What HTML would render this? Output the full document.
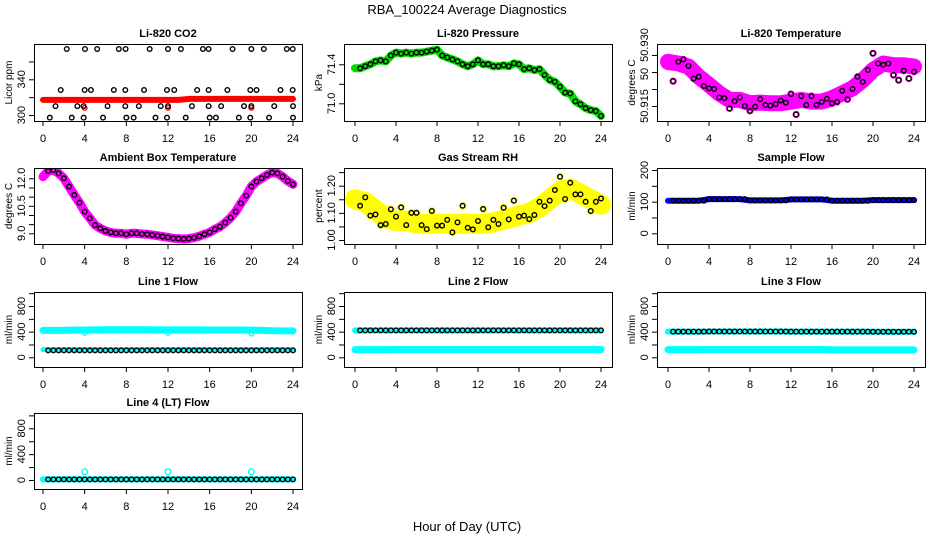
<!DOCTYPE html>
<html><head><meta charset="utf-8"><style>
html,body{margin:0;padding:0;background:#fff;width:936px;height:540px;overflow:hidden}
svg{display:block;font-family:"Liberation Sans",sans-serif}
</style></head><body>
<svg id="c" width="936" height="540" xmlns="http://www.w3.org/2000/svg">
<text x="467" y="14" text-anchor="middle" font-size="13">RBA_100224  Average Diagnostics</text>
<text x="467" y="531" text-anchor="middle" font-size="13">Hour of Day (UTC)</text>
</svg>
<script>
// ---- data ----
const hoursHalf = [];
for (let i = 0; i <= 48; i++) hoursHalf.push(i / 2);
const hoursHourly = [0,1,2,3,4,5,6,7,8,9,10,11,12,13,14,15,16,17,18,19,20,21,22,23,24];
const xTicks = [0,4,8,12,16,20,24];

const co2Red = [317,317,317,317,317,317,317,317,317,317,317,317,317,317,318,318,318,318,318,318,318,318,318,318,318];
const co2RedOutHours = [4,12,20];
const co2RedOutVals = [308,308,308];
const co2BlackHours = [2.28,4.03,5.2,7.28,7.93,10.24,12.0,13.24,15.35,15.9,18.2,20.0,21.2,23.4,23.97,
 1.7,4,4.6,6.8,7.9,9.7,11.9,12.6,14.8,15.9,17.7,19.9,20.5,22.8,23.97,
 1.2,3.3,3.9,6.2,7.9,9.2,11.3,12.0,14.3,15.9,17.1,19.3,20.0,22.2,24.0,
 0.65,2.76,3.9,5.76,8.0,8.7,10.8,11.9,13.7,16.0,16.6,18.8,19.9,21.7,24.0];
const co2BlackVals = [374,374,374,374,374,374,374,374,374,374,374,374,374,374,374,
 328,328,328,328,328,328,328,328,328,328,328,328,328,328,328,
 310,310,310,310,310,310,310,310,310,310,310,310,310,310,310,
 297,297,297,297,297,297,297,297,297,297,297,297,297,297,297];

const pressureVals = [71.36,71.36,71.38,71.40,71.43,71.44,71.43,71.49,71.52,71.51,71.52,71.51,71.52,71.52,71.53,71.54,71.55,71.49,71.47,71.45,71.43,71.40,71.38,71.40,71.44,71.40,71.40,71.38,71.38,71.39,71.38,71.41,71.40,71.35,71.36,71.34,71.35,71.29,71.24,71.22,71.17,71.11,71.10,71.02,70.99,70.95,70.93,70.92,70.87];

const tempTrend = [50.9280,50.9275,50.9266,50.9236,50.9212,50.9187,50.9168,50.9168,50.9158,50.9160,50.9158,50.9158,50.9163,50.9168,50.9163,50.9163,50.9173,50.9187,50.9202,50.9226,50.9256,50.9275,50.9270,50.9270,50.9266];
const tempBlack = [50.9266,50.9223,50.9280,50.9287,50.9268,50.9231,50.9236,50.9209,50.9202,50.9200,50.9175,50.9173,50.9143,50.9164,50.9175,50.9150,50.9136,50.9148,50.9170,50.9153,50.9151,50.9156,50.9166,50.9160,50.9185,50.9125,50.9179,50.9153,50.9179,50.9153,50.9162,50.9171,50.9158,50.9162,50.9195,50.9170,50.9200,50.9236,50.9221,50.9256,50.9305,50.9275,50.9271,50.9275,50.9241,50.9226,50.9254,50.9231,50.9251];

const ambientVals = [12.09,12.40,12.45,12.27,12.00,11.55,11.09,10.67,10.18,9.82,9.45,9.27,9.13,9.05,9.00,9.00,8.95,9.00,9.00,8.96,8.95,8.91,8.87,8.82,8.78,8.73,8.71,8.69,8.71,8.76,8.84,8.95,9.05,9.22,9.36,9.58,9.85,10.18,10.64,11.05,11.55,11.82,12.00,12.18,12.31,12.27,12.09,11.85,11.67];

const rhTrend = [1.15,1.14,1.11,1.08,1.07,1.07,1.06,1.06,1.06,1.06,1.06,1.06,1.06,1.06,1.07,1.08,1.09,1.10,1.12,1.15,1.18,1.19,1.17,1.15,1.13];
const rhBlack = [1.15,1.126,1.157,1.09,1.094,1.055,1.059,1.113,1.086,1.12,1.055,1.10,1.10,1.055,1.04,1.107,1.053,1.053,1.074,1.028,1.065,1.126,1.045,1.039,1.07,1.114,1.047,1.074,1.059,1.119,1.076,1.145,1.086,1.09,1.077,1.092,1.141,1.125,1.145,1.184,1.233,1.151,1.211,1.168,1.168,1.141,1.107,1.141,1.153];

const sampleVals = [103,103,103,103,108,108,108,108,104,104,104,104,107,107,107,107,103,103,103,103,105,105,105,105,105];

const line1Top = [420,420,420,425,425,428,430,430,430,430,430,428,428,428,428,428,426,426,425,425,424,420,415,412,412];
const line1Low = [120,120,120,120,120,120,120,120,120,120,120,120,120,120,120,120,120,120,120,120,120,120,120,120,120];
const line1Black = [108,108,108,108,108,108,108,108,108,108,108,108,108,108,108,108,108,108,108,108,108,108,108,108,108];
const line1OutVals = [380,380,370];
const line2Top = [420,420,420,420,420,420,420,420,420,420,420,420,420,420,420,420,420,420,420,420,420,420,420,420,420];
const line2Low = [120,120,120,120,122,122,122,122,122,122,122,122,122,122,122,122,122,122,122,122,122,122,122,122,122];
const line3Top = [400,400,400,400,402,402,402,402,402,402,402,402,400,400,400,400,400,400,400,400,398,398,398,398,398];
const line3Low = [120,120,120,120,122,122,122,122,122,122,122,122,122,122,122,122,115,115,115,115,115,115,115,115,115];
const line4Vals = [10,10,10,10,10,10,10,10,10,10,10,10,10,10,10,10,10,10,10,10,10,10,10,10,10];
const line4OutHours = [4,12,20];
const line4OutVals = [128,128,128];

// ---- layout ----
const colL = [34,344,657], colR = [302,612,925], colX0 = [43,355,668];
const rowT = [44,168,292,413], rowB = [121,244,367,489];
const NS = 'http://www.w3.org/2000/svg';
const svg = document.getElementById('c');
function mk(tag, attrs, parent) {
  const e = document.createElementNS(NS, tag);
  for (const k in attrs) e.setAttribute(k, attrs[k]);
  (parent || svg).appendChild(e);
  return e;
}
function panel(o) {
  const g = mk('g', {});
  
  
  const L = colL[o.c], R = colR[o.c], T = rowT[o.r], B = rowB[o.r];
  const xs = h => colX0[o.c] + h * ((colR[o.c] - colL[o.c]) - 2 * (colX0[o.c] - colL[o.c])) / 24;
  const ys = v => T + o.p1 + (v - o.v1) * (o.p2 - o.p1) / (o.v2 - o.v1);
  const clip = 'clip' + o.name;
  const cp = mk('clipPath', {id: clip}, g);
  mk('rect', {x: L, y: T, width: R - L, height: B - T}, cp);
  const plot = mk('g', {'clip-path': 'url(#' + clip + ')'}, g);
  
  
  o.draw(plot, xs, ys);
  const box = mk('rect', {x: L + 0.5, y: T + 0.5, width: R - L, height: B - T, fill: 'none', stroke: '#000', 'stroke-width': 1}, g);
  
  
  const t = mk('text', {x: (L + R) / 2, y: T - 7, 'text-anchor': 'middle', 'font-size': 11, 'font-weight': 'bold'}, g);
  t.textContent = o.title;
  
  
  // x axis
  const xa = mk('g', {}, g);
  
  
  mk('line', {x1: xs(0), x2: xs(24), y1: B + 0.5, y2: B + 0.5, stroke: '#000'}, xa);
  xTicks.forEach(h => {
    mk('line', {x1: xs(h), x2: xs(h), y1: B, y2: B + 5, stroke: '#000'}, xa);
    const tl = mk('text', {x: xs(h), y: B + 21, 'text-anchor': 'middle', 'font-size': 11}, xa);
    tl.textContent = h;
    
    
  });
  // y axis
  const ya = mk('g', {}, g);
  
  
  mk('line', {x1: L + 0.5, x2: L + 0.5, y1: ys(o.ticks[0]), y2: ys(o.ticks[o.ticks.length - 1]), stroke: '#000'}, ya);
  o.ticks.forEach((v, i) => {
    mk('line', {x1: L - 5, x2: L, y1: ys(v) + 0.5, y2: ys(v) + 0.5, stroke: '#000'}, ya);
    if (o.labels[i]) {
      const x = L - 9, y = ys(v) + ((o.labelShift && o.labelShift[i]) || 0);
      const tl = mk('text', {x: x, y: y, 'text-anchor': 'middle', 'font-size': 11, transform: 'rotate(-90 ' + x + ' ' + y + ')'}, ya);
      tl.textContent = o.labels[i];
      
      
    }
  });
  const yx = L - 22, yy = (T + B) / 2;
  const yt = mk('text', {x: yx, y: yy, 'text-anchor': 'middle', 'font-size': 10, transform: 'rotate(-90 ' + yx + ' ' + yy + ')'}, g);
  yt.textContent = o.ytitle;
  
  
}
function band(p, hs, vs, xs, ys, color, w, nm) {
  const pl = mk('polyline', {points: hs.map((h, i) => xs(h) + ',' + ys(vs[i])).join(' '), fill: 'none', stroke: color, 'stroke-width': w, 'stroke-linejoin': 'round', 'stroke-linecap': 'round'}, p);
  
  
}
function pts(p, hs, vs, xs, ys, color, nm, r) {
  hs.forEach((h, i) => {
    const c = mk('circle', {cx: xs(h), cy: ys(vs[i]), r: r || 2.3, fill: 'none', stroke: color, 'stroke-width': 1.4}, p);
    
    
  });
}
const blackHalf = hoursHalf.slice(1);

panel({name: 'co2-panel', c: 0, r: 0, title: 'Li-820 CO2', ytitle: 'Licor ppm', v1: 300, p1: 71, v2: 340, p2: 35.3,
  ticks: [300,320,340,360], labels: ['300','','340',''],
  draw(p, xs, ys) {
    band(p, hoursHourly, co2Red, xs, ys, '#f00', 6, 'co2-series-band');
    pts(p, co2RedOutHours, co2RedOutVals, xs, ys, '#f00', 'co2-outlier');
    pts(p, co2BlackHours, co2BlackVals, xs, ys, '#000', 'co2-average-point');
  }});
panel({name: 'pressure-panel', c: 1, r: 0, title: 'Li-820 Pressure', ytitle: 'kPa', v1: 71.0, p1: 59.3, v2: 71.4, p2: 20.3,
  ticks: [71.0,71.2,71.4], labels: ['71.0','','71.4'],
  draw(p, xs, ys) {
    band(p, hoursHalf, pressureVals, xs, ys, '#00dd00', 8, 'pressure-series-band');
    pts(p, blackHalf, pressureVals.slice(1), xs, ys, '#000', 'pressure-average-point');
  }});
panel({name: 'temp-panel', c: 2, r: 0, title: 'Li-820 Temperature', ytitle: 'degrees C', v1: 50.915, p1: 62, v2: 50.930, p2: 11,
  ticks: [50.915,50.920,50.925,50.930], labels: ['50.915','','50','50.930'], labelShift: [0,0,2,-10],
  draw(p, xs, ys) {
    band(p, hoursHourly, tempTrend, xs, ys, '#ff00ff', 16, 'temp-series-band');
    pts(p, hoursHalf, tempBlack, xs, ys, '#ff00ff', 'temp-raw-point', 3);
    pts(p, blackHalf, tempBlack.slice(1), xs, ys, '#000', 'temp-average-point');
  }});
panel({name: 'ambient-panel', c: 0, r: 1, title: 'Ambient Box Temperature', ytitle: 'degrees C', v1: 9.0, p1: 65.3, v2: 12.0, p2: 10.3,
  ticks: [9.0,9.5,10.0,10.5,11.0,11.5,12.0], labels: ['9.0','','','10.5','','','12.0'],
  draw(p, xs, ys) {
    band(p, hoursHalf, ambientVals, xs, ys, '#ff00ff', 9, 'ambient-series-band');
    pts(p, blackHalf, ambientVals.slice(1), xs, ys, '#000', 'ambient-average-point');
  }});
panel({name: 'rh-panel', c: 1, r: 1, title: 'Gas Stream RH', ytitle: 'percent', v1: 1.00, p1: 72, v2: 1.20, p2: 17.7,
  ticks: [1.00,1.05,1.10,1.15,1.20,1.25], labels: ['1.00','','1.10','','1.20',''],
  draw(p, xs, ys) {
    band(p, hoursHourly, rhTrend, xs, ys, '#ffff00', 20, 'rh-series-band');
    pts(p, hoursHalf, rhBlack, xs, ys, '#ffff00', 'rh-raw-point', 3.2);
    pts(p, blackHalf, rhBlack.slice(1), xs, ys, '#000', 'rh-average-point');
  }});
panel({name: 'sample-flow-panel', c: 2, r: 1, title: 'Sample Flow', ytitle: 'ml/min', v1: 0, p1: 65.3, v2: 200, p2: 2,
  ticks: [0,50,100,150,200], labels: ['0','','100','','200'],
  draw(p, xs, ys) {
    band(p, hoursHourly, sampleVals, xs, ys, '#0000ff', 6, 'sample-series-band');
    pts(p, blackHalf, blackHalf.map(h => sampleVals[Math.floor(h)]), xs, ys, '#000', 'sample-average-point');
  }});
const flowTicks = [0,200,400,600,800,1000], flowLabels = ['0','','400','','800',''];
panel({name: 'line1-panel', c: 0, r: 2, title: 'Line 1 Flow', ytitle: 'ml/min', v1: 0, p1: 65.3, v2: 800, p2: 14,
  ticks: flowTicks, labels: flowLabels,
  draw(p, xs, ys) {
    band(p, hoursHourly, line1Top, xs, ys, '#00ffff', 7, 'line1-top-band');
    band(p, hoursHourly, line1Low, xs, ys, '#00ffff', 5, 'line1-low-band');
    pts(p, co2RedOutHours, line1OutVals, xs, ys, '#00ffff', 'line1-outlier');
    pts(p, blackHalf, blackHalf.map(h => line1Black[Math.floor(h)]), xs, ys, '#000', 'line1-average-point');
  }});
panel({name: 'line2-panel', c: 1, r: 2, title: 'Line 2 Flow', ytitle: 'ml/min', v1: 0, p1: 65.3, v2: 800, p2: 14,
  ticks: flowTicks, labels: flowLabels,
  draw(p, xs, ys) {
    band(p, hoursHourly, line2Top, xs, ys, '#00ffff', 6, 'line2-top-band');
    band(p, hoursHourly, line2Low, xs, ys, '#00ffff', 7, 'line2-low-band');
    pts(p, blackHalf, blackHalf.map(h => line2Top[Math.floor(h)]), xs, ys, '#000', 'line2-average-point');
  }});
panel({name: 'line3-panel', c: 2, r: 2, title: 'Line 3 Flow', ytitle: 'ml/min', v1: 0, p1: 65.3, v2: 800, p2: 14,
  ticks: flowTicks, labels: flowLabels,
  draw(p, xs, ys) {
    band(p, hoursHourly, line3Top, xs, ys, '#00ffff', 6, 'line3-top-band');
    band(p, hoursHourly, line3Low, xs, ys, '#00ffff', 7, 'line3-low-band');
    pts(p, blackHalf, blackHalf.map(h => line3Top[Math.floor(h)]), xs, ys, '#000', 'line3-average-point');
  }});
panel({name: 'line4-panel', c: 0, r: 3, title: 'Line 4 (LT) Flow', ytitle: 'ml/min', v1: 0, p1: 67, v2: 800, p2: 15.3,
  ticks: flowTicks, labels: flowLabels,
  draw(p, xs, ys) {
    band(p, hoursHourly, line4Vals, xs, ys, '#00ffff', 6, 'line4-band');
    pts(p, line4OutHours, line4OutVals, xs, ys, '#00ffff', 'line4-outlier', 2.8);
    pts(p, blackHalf, blackHalf.map(h => line4Vals[Math.floor(h)]), xs, ys, '#000', 'line4-average-point');
  }});
</script>
</body></html>
